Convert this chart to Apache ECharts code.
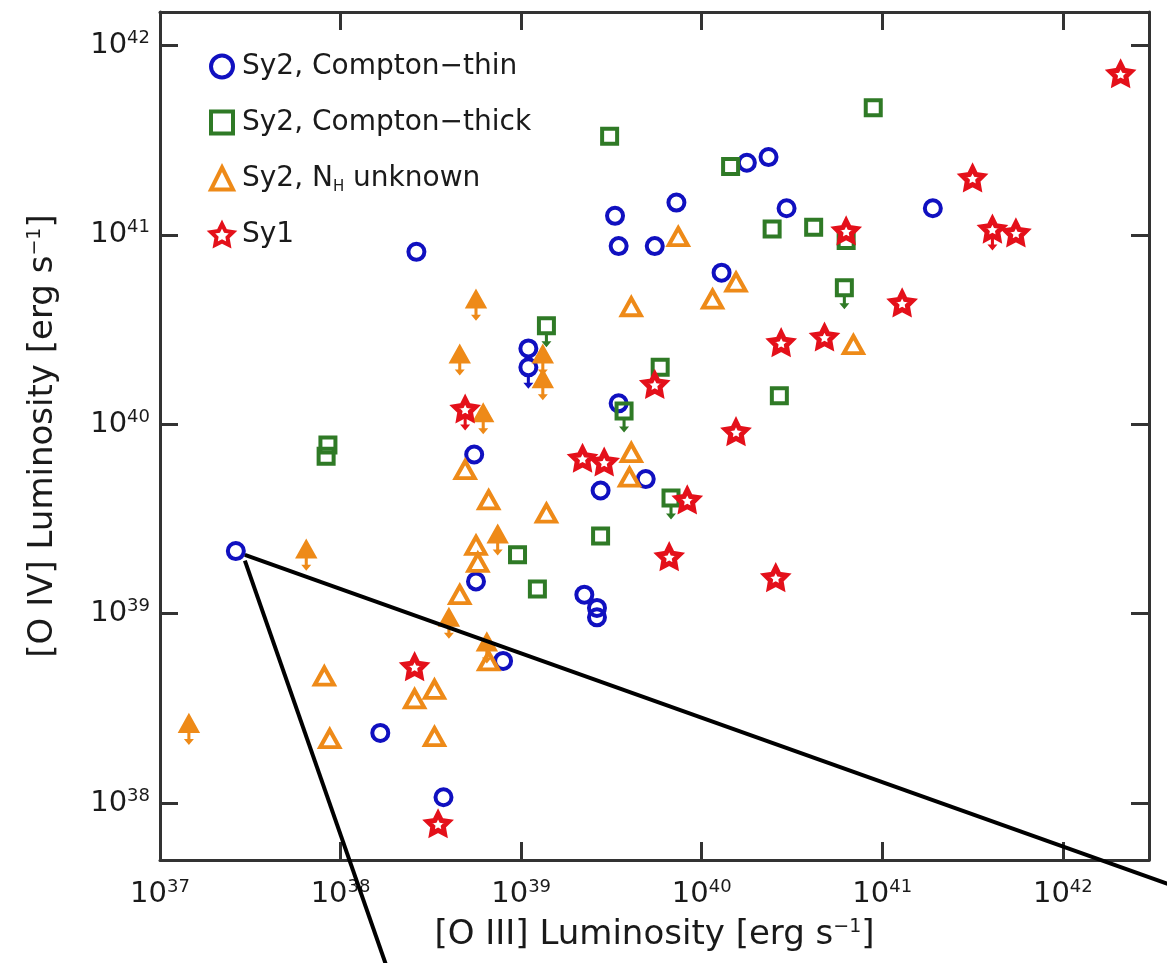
<!DOCTYPE html>
<html>
<head>
<meta charset="utf-8">
<script src="https://cdn.jsdelivr.net/npm/echarts@6/dist/echarts.min.js"></script>
<style>
  html, body { margin: 0; padding: 0; background: #fff; }
  #container { width: 1167px; height: 963px; }
</style>
</head>
<body>
<div id="container"></div>
<script>
// every point is [log10 L_OIII, log10 L_OIV] in erg/s
const thinDet = [
  [37.42, 39.33], [38.42, 40.91], [39.52, 41.10], [39.54, 40.94], [39.74, 40.94],
  [39.86, 41.17], [40.11, 40.80], [40.25, 41.38], [40.37, 41.41], [40.47, 41.14],
  [41.28, 41.14], [39.04, 40.40], [39.54, 40.11], [38.74, 39.84], [39.44, 39.65],
  [39.69, 39.71], [38.75, 39.17], [38.90, 38.75], [38.22, 38.37], [38.57, 38.03],
  [39.35, 39.10], [39.42, 39.03], [39.42, 38.98]
]
const thinUL = [[39.04, 40.30]]

const thickDet = [
  [39.49, 41.52], [40.16, 41.36], [40.39, 41.03], [40.95, 41.67], [40.62, 41.04],
  [40.80, 40.97], [39.77, 40.30], [40.43, 40.15], [37.93, 39.89], [37.92, 39.83],
  [39.44, 39.41], [38.98, 39.31], [39.09, 39.13]
]
const thickUL = [[40.79, 40.72], [39.14, 40.52], [39.57, 40.07], [39.83, 39.61]]

const unkDet = [
  [39.61, 40.62], [39.87, 40.99], [40.06, 40.66], [40.19, 40.75], [40.84, 40.42],
  [38.69, 39.76], [38.82, 39.60], [38.75, 39.36], [38.76, 39.27], [38.66, 39.10],
  [38.82, 38.75], [37.91, 38.67], [38.41, 38.55], [38.52, 38.60], [37.94, 38.34],
  [38.52, 38.35], [39.14, 39.53], [39.61, 39.85], [39.60, 39.72]
]
const unkUL = [
  [38.75, 40.66], [38.66, 40.37], [39.12, 40.37], [39.12, 40.24], [38.79, 40.06],
  [38.87, 39.42], [37.81, 39.34], [38.60, 38.98], [38.81, 38.85], [37.16, 38.42]
]

const sy1Det = [
  [42.32, 41.85], [41.50, 41.30], [41.74, 41.01], [40.80, 41.02], [41.11, 40.64],
  [40.44, 40.43], [40.68, 40.46], [39.74, 40.21], [40.19, 39.96], [39.34, 39.82],
  [39.46, 39.80], [39.92, 39.60], [39.82, 39.30], [40.41, 39.19], [38.41, 38.72],
  [38.54, 37.89]
]
const sy1UL = [[41.61, 41.03], [38.69, 40.08]]

// the two black callout lines leaving the lowest-left circle
const calloutFrom = [[37.47, 39.31], [37.47, 39.28]]
const calloutTo = [[42.59, 37.57], [38.25, 37.15]]

const names = ['Sy2, Compton\u2212thin', 'Sy2, Compton\u2212thick', 'Sy2, N_H unknown', 'Sy1']

const xRange = [1e37, 3e42]
const yRange = [5e37, 1.5e42]

const blue = '#1010c0'
const green = '#2f7a26'
const orange = '#ee8a18'
const red = '#e4101a'
const font = 'DejaVu Sans'

const starPath = 'path://M0 -10L2.94 -4.05L9.51 -3.09L4.76 1.55L5.88 8.09L0 5L-5.88 8.09L-4.76 1.55L-9.51 -3.09L-2.94 -4.05Z'
const arrowPath = 'path://M-1.4 0L1.4 0L1.4 7L4.6 7L0 13L-4.6 7L-1.4 7Z'

const toLin = arr => arr.map(p => [Math.pow(10, p[0]), Math.pow(10, p[1])])

const dom = document.getElementById('container')
const myChart = echarts.init(dom)

const powLabel = v => {
  const l = Math.log10(v)
  const e = Math.round(l)
  return Math.abs(l - e) < 1e-6 ? '{b|10}{s|' + e + '}' : ''
}
const labelRich = {
  b: { fontFamily: font, fontSize: 29, lineHeight: 32, color: '#1a1a1a' },
  s: { fontFamily: font, fontSize: 18, lineHeight: 18, verticalAlign: 'top', color: '#1a1a1a' }
}
const nameRich = {
  t: { fontFamily: font, fontSize: 34, lineHeight: 38, color: '#1a1a1a' },
  s: { fontFamily: font, fontSize: 19, lineHeight: 19, verticalAlign: 'top', color: '#1a1a1a' }
}
const frameLine = { show: true, onZero: false, lineStyle: { color: '#333', width: 3 } }
const tickIn = { show: true, inside: true, length: 18, lineStyle: { color: '#333', width: 3 } }

const scatter = (name, data, symbol, size, style, z) => ({
  name,
  type: 'scatter',
  data: toLin(data),
  symbol,
  symbolSize: size,
  symbolKeepAspect: true,
  itemStyle: Object.assign({ opacity: 1 }, style),
  z: z || 2,
  emphasis: { disabled: true }
})
const arrows = (name, data, color) => ({
  name,
  type: 'scatter',
  data: toLin(data),
  symbol: arrowPath,
  symbolSize: [10, 13],
  symbolOffset: [0, 15],
  itemStyle: { color, opacity: 1 },
  z: 2,
  emphasis: { disabled: true }
})
const hollow = c => ({ color: 'rgba(255,255,255,0)', borderColor: c, borderWidth: 4 })
const starStyle = { color: '#fff', borderColor: red, borderWidth: 5 }

const option = {
  backgroundColor: '#fff',
  animation: false,
  grid: { left: 160, right: 18, top: 12, bottom: 103 },
  legend: {
    data: names,
    orient: 'vertical',
    left: 204,
    top: 45,
    itemGap: 23,
    itemWidth: 22,
    itemHeight: 22,
    itemStyle: { borderWidth: 4 },
    formatter: n => n === names[2] ? 'Sy2, N{sub|H} unknown' : n,
    textStyle: {
      fontFamily: font,
      fontSize: 28,
      lineHeight: 33,
      color: '#1a1a1a',
      padding: [0, 0, 0, 4],
      rich: {
        sub: { fontFamily: font, fontSize: 15, lineHeight: 15, verticalAlign: 'bottom', color: '#1a1a1a' }
      }
    }
  },
  xAxis: [
    {
      type: 'log',
      min: xRange[0],
      max: xRange[1],
      position: 'bottom',
      axisLine: frameLine,
      axisTick: tickIn,
      splitLine: { show: false },
      axisLabel: { formatter: powLabel, rich: labelRich, margin: 18, showMaxLabel: false },
      name: '[O III] Luminosity [erg s{s|\u22121}]',
      nameLocation: 'middle',
      nameGap: 58,
      nameTextStyle: { fontFamily: font, fontSize: 34, color: '#1a1a1a', rich: nameRich }
    },
    {
      type: 'log',
      min: xRange[0],
      max: xRange[1],
      position: 'top',
      axisLine: frameLine,
      axisTick: tickIn,
      splitLine: { show: false },
      axisLabel: { show: false }
    }
  ],
  yAxis: [
    {
      type: 'log',
      min: yRange[0],
      max: yRange[1],
      position: 'left',
      axisLine: frameLine,
      axisTick: tickIn,
      splitLine: { show: false },
      axisLabel: { formatter: powLabel, rich: labelRich, margin: 10, showMinLabel: false, showMaxLabel: false },
      name: '[O IV] Luminosity [erg s{s|\u22121}]',
      nameLocation: 'middle',
      nameGap: 100,
      nameTextStyle: { fontFamily: font, fontSize: 34, color: '#1a1a1a', rich: nameRich }
    },
    {
      type: 'log',
      min: yRange[0],
      max: yRange[1],
      position: 'right',
      axisLine: frameLine,
      axisTick: tickIn,
      splitLine: { show: false },
      axisLabel: { show: false }
    }
  ],
  series: [
    scatter(names[0], thinDet, 'circle', 16, hollow(blue), 3),
    scatter(names[1], thickDet, 'rect', 15, hollow(green), 3),
    scatter(names[2], unkDet, 'triangle', [19, 17], hollow(orange), 3),
    scatter(names[3], sy1Det, starPath, 21, starStyle, 4),
    scatter(names[0], thinUL, 'circle', 16, hollow(blue), 3),
    arrows(names[0], thinUL, blue),
    scatter(names[1], thickUL, 'rect', 15, hollow(green), 3),
    arrows(names[1], thickUL, green),
    scatter(names[2], unkUL, 'triangle', [19, 17], { color: orange, borderColor: orange, borderWidth: 2 }, 3),
    arrows(names[2], unkUL, orange),
    scatter(names[3], sy1UL, starPath, 21, starStyle, 4),
    arrows(names[3], sy1UL, red),
    {
      type: 'lines',
      coordinateSystem: 'cartesian2d',
      clip: false,
      silent: true,
      z: 10,
      lineStyle: { color: '#000', width: 4, opacity: 1 },
      data: calloutFrom.map((p, i) => ({ coords: toLin([p, calloutTo[i]]) }))
    }
  ]
}

myChart.setOption(option)
</script>
</body>
</html>
